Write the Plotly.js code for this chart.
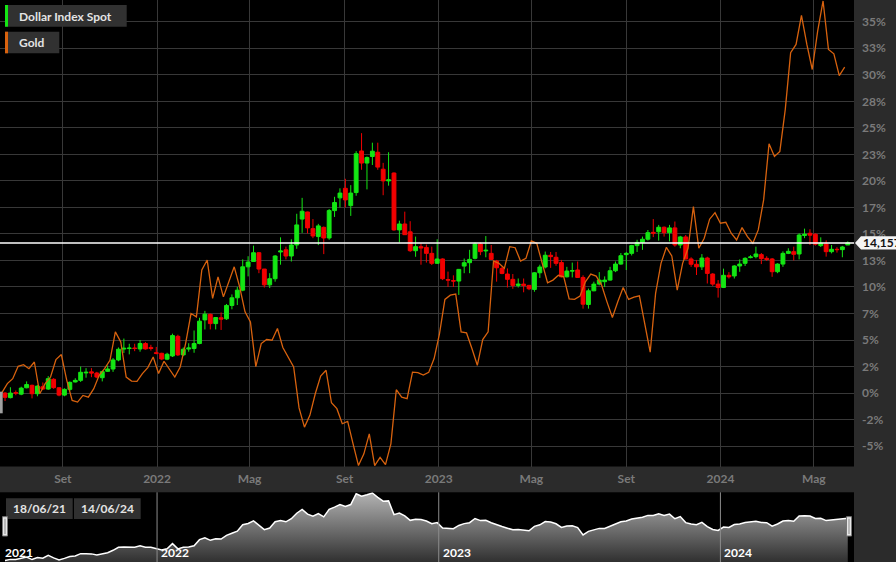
<!DOCTYPE html>
<html><head><meta charset="utf-8">
<script src="https://cdn.plot.ly/plotly-3.0.1.min.js"></script>
<style>html,body{margin:0;padding:0;background:#2b2b2b;overflow:hidden}#chart{width:896px;height:562px}</style>
</head><body><div id="chart"></div>
<script>
// ---- data (percent change) ----
const firstWeek = '2021-06-18';
const dxyOpen = [0.0,-0.43,0.05,-0.1,0.5,0.73,-0.06,0.6,0.38,1.3,
 0.5,-0.19,0.35,1.05,1.2,1.9,2.0,1.89,1.45,2.05,
 2.27,3.12,4.15,4.2,4.25,4.16,4.67,4.3,3.8,3.75,
 3.2,3.5,5.35,3.6,4.15,4.2,4.67,6.9,7.42,6.55,
 7.1,7.0,8.26,8.98,9.7,11.9,12.4,13.23,11.69,10.2,
 10.78,13.3,13.5,12.92,13.96,16.4,17.07,15.5,14.75,15.62,
 14.62,17.2,18.4,19.3,17.67,18.9,22.82,21.68,22.3,22.7,
 21.1,20.0,20.74,15.38,15.94,15.2,13.42,13.8,13.73,13.17,
 12.23,12.64,10.7,10.6,10.56,11.97,12.29,12.7,14.05,13.4,
 13.17,12.45,11.75,11.22,10.72,10.15,10.27,10.15,9.77,11.34,
 11.88,12.99,12.8,12.3,10.96,11.5,11.6,10.9,8.35,9.64,
 10.27,10.5,10.65,11.53,12.16,13.05,13.17,13.9,14.2,14.5,
 15.15,15.2,15.63,15.12,15.57,13.96,14.72,12.64,12.14,11.9,
 12.73,11.22,10.27,9.96,11.1,11.04,11.98,12.23,12.77,12.86,
 13.05,12.7,12.64,11.44,12.16,13.17,13.33,13.11,14.85,15.06,
 14.97,13.9,14.05,13.33,13.55,13.52,13.96];
const dxyHigh = [0.1,0.55,0.25,0.6,1.1,0.8,0.75,1.0,1.6,1.4,
 0.55,0.45,1.1,1.4,2.5,2.35,2.35,2.0,2.1,2.6,
 3.3,4.3,5.14,4.65,4.65,5.0,4.8,4.55,4.35,3.8,
 3.8,5.6,5.5,4.3,4.7,5.9,7.1,7.75,7.5,7.15,
 7.6,8.4,9.3,10.0,12.6,12.9,13.9,13.3,11.7,11.3,
 13.0,14.68,13.8,14.5,16.9,18.4,17.1,16.4,15.95,15.7,
 17.35,18.5,19.3,20.2,19.6,22.8,24.5,22.3,23.6,23.6,
 21.7,22.7,20.8,16.25,17.1,16.2,14.75,14.1,14.0,13.8,
 14.5,12.7,11.45,11.1,11.7,12.68,13.5,14.2,14.2,14.8,
 13.96,12.55,11.9,11.75,11.22,10.8,10.8,10.2,11.4,12.1,
 13.34,13.3,13.3,12.55,11.9,12.3,12.4,11.1,9.85,10.5,
 11.4,11.0,11.9,12.4,13.2,13.3,13.97,14.45,14.75,15.37,
 16.4,15.85,15.7,15.85,16.17,14.82,14.9,12.8,12.55,13.1,
 12.85,11.3,10.65,11.73,11.4,12.05,12.6,12.8,13.0,13.8,
 13.2,12.9,12.73,12.23,13.36,13.65,13.8,15.06,15.5,15.44,
 15.06,14.68,14.4,13.96,13.75,13.87,14.3];
const dxyLow = [-0.75,-0.5,-0.2,-0.2,0.45,-0.5,-0.3,0.3,0.3,0.4,
 -0.3,-0.3,0.2,1.0,1.05,1.45,1.5,1.4,1.1,2.0,
 2.0,3.0,3.78,3.65,3.95,3.9,4.1,4.0,3.65,3.1,
 3.1,3.4,3.5,3.5,3.9,3.8,4.6,6.0,6.0,6.0,
 5.95,6.9,7.9,8.3,9.6,11.0,12.4,11.3,9.95,9.9,
 10.5,12.1,12.6,12.4,13.6,15.1,15.05,14.6,13.95,13.1,
 14.45,16.6,17.5,17.5,16.7,18.6,21.05,19.2,21.5,21.05,
 18.65,19.55,15.3,14.2,14.9,13.3,12.85,12.1,12.3,12.07,
 12.2,10.65,10.0,10.0,9.25,11.3,11.3,12.6,13.0,12.8,
 12.55,10.5,11.2,9.95,9.83,9.95,9.5,9.7,9.55,10.85,
 11.75,11.8,12.0,10.9,10.9,10.9,10.85,7.96,7.96,9.6,
 10.15,10.0,10.6,11.4,12.1,11.6,12.97,13.3,13.5,14.37,
 14.7,14.37,14.75,14.3,13.8,13.65,12.6,11.9,11.13,11.6,
 10.33,10.1,9.0,9.9,10.8,10.8,11.43,11.98,12.7,12.7,
 12.16,12.45,10.96,11.3,11.9,13.1,12.5,12.6,14.6,13.96,
 13.9,13.77,12.86,13.17,13.24,12.8,13.96];
const dxyClose = [-0.4,0.0,0.0,0.47,0.8,-0.06,0.66,0.38,1.36,0.51,
 -0.19,0.35,1.01,1.2,1.96,1.96,1.89,1.51,2.02,2.27,
 3.12,4.13,4.22,4.24,4.2,4.67,4.16,4.2,3.75,3.21,
 3.66,5.42,3.6,4.13,4.25,4.67,6.78,7.44,6.55,7.12,
 6.97,8.26,8.98,9.7,11.9,12.35,13.23,11.69,10.2,10.78,
 12.92,13.39,12.92,13.96,15.85,17.14,15.57,14.81,15.76,14.62,
 17.2,17.96,18.85,18.21,18.85,22.56,21.68,22.2,22.8,21.3,
 20.0,20.1,15.38,15.94,14.93,13.42,13.8,13.68,13.17,12.23,
 12.64,10.78,10.65,10.56,11.66,12.29,12.6,14.05,13.33,13.46,
 12.6,11.81,11.28,10.72,10.15,10.27,10.15,9.83,11.34,11.88,
 12.99,12.86,12.23,10.96,11.5,11.53,10.9,8.38,9.64,10.27,
 10.65,10.65,11.53,12.16,12.95,13.17,13.9,14.2,14.5,15.12,
 15.07,15.63,15.12,15.57,13.96,14.72,12.64,12.14,11.9,12.73,
 11.28,10.27,9.96,11.1,10.96,11.98,12.16,12.7,12.83,13.11,
 12.67,12.6,11.44,12.16,13.17,13.36,13.08,14.9,14.97,14.88,
 14.03,14.12,13.33,13.55,13.52,13.77,14.157];
const goldStart = '2021-06-14';
const gold = [0.05,
 0.89,1.36,2.52,2.68,2.3,2.93,-0.06,0.89,1.51,3.16,
 3.63,1.2,-0.69,-0.85,-0.22,-0.38,0.42,1.67,2.3,3.09,
 5.77,4.82,1.51,1.13,1.1,1.83,2.4,3.4,1.85,3.0,
 2.3,1.51,2.46,4.67,7.5,7.18,11.6,12.54,8.92,10.96,
 9.07,10.4,11.9,10.02,7.66,6.71,2.5,4.67,5.05,4.98,
 6.09,4.3,3.4,2.46,-1.4,-3.21,-2.1,-0.06,1.6,2.15,
 -0.91,-1.47,-2.89,-2.67,-4.78,-6.83,-5.73,-3.84,-6.83,-6.05,
 -6.74,-4.78,0.32,-0.38,-0.53,1.98,1.93,1.7,1.95,3.25,
 5.61,8.83,9.23,9.33,5.77,5.67,4.2,2.62,5.05,5.77,
 12.45,12.23,11.76,13.8,13.7,12.45,12.7,14.34,14.12,12.23,
 10.4,10.65,11.1,10.96,8.88,8.83,9.14,10.49,11.22,11.03,
 10.18,8.6,7.13,8.6,9.96,8.83,9.05,9.17,6.5,3.85,
 9.4,12.23,13.74,12.92,9.71,12.23,13.65,17.58,13.65,14.59,
 16.39,17.01,16.01,16.1,15.07,14.43,15.6,14.74,14.12,15.38,
 18.21,23.5,22.3,22.78,26.72,32.08,32.86,35.6,32.86,30.5,
 34.12,36.96,32.39,31.98,29.93,30.72];
const monthTicks = ['2021-09-01','2022-01-01','2022-05-01','2022-09-01','2023-01-01','2023-05-01','2023-09-01','2024-01-01','2024-05-01'];
const monthLabels = ['Set','2022','Mag','Set','2023','Mag','Set','2024','Mag'];
const yTicks = [-5,-2.5,0,2.5,5,7.5,10,12.5,15,17.5,20,22.5,25,27.5,30,32.5,35];
const yLabels = ['-5%','-2%','0%','2%','5%','7%','10%','13%','15%','17%','20%','23%','25%','28%','30%','33%','35%'];
const yearTicks = ['2022-01-01','2023-01-01','2024-01-01'];
const yearLabels = ['2022','2023','2024'];
const firstYearLabel = '2021';
const seriesNames = ['Dollar Index Spot','Gold'];
const navFrom = '18/06/21', navTo = '14/06/24';

// ---- helpers ----
function weekly(start, n){const t0=Date.parse(start+'T00:00:00Z');const out=[];for(let i=0;i<n;i++){out.push(new Date(t0+i*604800000).toISOString().slice(0,10));}return out;}
const dates = weekly(firstWeek, dxyClose.length);
const goldDates = weekly(goldStart, gold.length);
const W=896,H=562,PW=854;
const pxp = x => x/PW;
const pyp = y => (H-y)/H;
const X_RANGE = ['2021-06-11 12:00','2024-06-22 02:00'];
const Y_RANGE = [-6.92, 37.05];
const NAV_RANGE = [-0.9, 23.05];
const MAIN_BOTTOM = (H-466.5)/H, NAV_TOP = (H-492.3)/H;
const GREEN='#14e614', RED='#f20000', ORANGE='#d8620e';
const last = dxyClose[dxyClose.length-1];
const tickFont = {family:'Lato, sans-serif', size:12, color:'#7a7a7a', weight:'bold'};

const traces = [
 {type:'candlestick', x:dates, open:dxyOpen, high:dxyHigh, low:dxyLow, close:dxyClose,
  xaxis:'x', yaxis:'y', whiskerwidth:0, hoverinfo:'skip', name:seriesNames[0],
  increasing:{line:{color:GREEN,width:1},fillcolor:GREEN},
  decreasing:{line:{color:RED,width:1},fillcolor:RED}},
 {type:'scatter', mode:'lines', x:goldDates, y:gold, xaxis:'x', yaxis:'y', name:seriesNames[1],
  line:{color:ORANGE,width:1.3}, hoverinfo:'skip'},
 {type:'scatter', mode:'lines', x:[dates[0],dates[dates.length-1]], y:[NAV_RANGE[0],NAV_RANGE[0]],
  xaxis:'x2', yaxis:'y2', line:{width:0,color:'rgba(0,0,0,0)'}, hoverinfo:'skip'},
 {type:'scatter', mode:'lines', x:dates, y:dxyClose, xaxis:'x2', yaxis:'y2',
  line:{color:'#ffffff',width:1.5}, fill:'tonexty', fillcolor:'#707070',
  fillgradient:{type:'vertical', start:NAV_RANGE[0], stop:NAV_RANGE[1], colorscale:[[0,'#303030'],[1,'#b4b4b4']]},
  hoverinfo:'skip'}
];

const shapes = [
 {type:'line', xref:'paper', yref:'y', x0:0, x1:1, y0:last, y1:last, line:{color:'#ffffff',width:1.5}, layer:'above'},
 {type:'path', xref:'paper', yref:'y', layer:'above', fillcolor:'#f4f4f4', line:{width:0},
  path:`M ${pxp(855)},${last} L ${pxp(861)},${last+0.63} L ${pxp(905)},${last+0.63} L ${pxp(905)},${last-0.63} L ${pxp(861)},${last-0.63} Z`},
 {type:'rect', xref:'paper', yref:'paper', x0:pxp(5), x1:pxp(126.7), y0:pyp(26.7), y1:pyp(5), fillcolor:'#313131', line:{width:0}, layer:'above'},
 {type:'rect', xref:'paper', yref:'paper', x0:pxp(5), x1:pxp(8), y0:pyp(26.7), y1:pyp(5), fillcolor:GREEN, line:{width:0}, layer:'above'},
 {type:'rect', xref:'paper', yref:'paper', x0:pxp(5), x1:pxp(59.3), y0:pyp(53.3), y1:pyp(31.7), fillcolor:'#313131', line:{width:0}, layer:'above'},
 {type:'rect', xref:'paper', yref:'paper', x0:pxp(5), x1:pxp(8), y0:pyp(53.3), y1:pyp(31.7), fillcolor:ORANGE, line:{width:0}, layer:'above'},
 {type:'rect', xref:'paper', yref:'paper', x0:pxp(6), x1:pxp(72.7), y0:pyp(519), y1:pyp(498.3), fillcolor:'#303030', line:{width:0}, layer:'above'},
 {type:'rect', xref:'paper', yref:'paper', x0:pxp(74), x1:pxp(140.7), y0:pyp(519), y1:pyp(498.3), fillcolor:'#303030', line:{width:0}, layer:'above'},
 ...yearTicks.map(d => ({type:'line', xref:'x2', yref:'paper', x0:d, x1:d, y0:0, y1:NAV_TOP, line:{color:'#8c8c8c',width:1}, layer:'above'})),
 {type:'rect', xref:'paper', yref:'paper', x0:pxp(2.5), x1:pxp(7.5), y0:pyp(536), y1:pyp(516.7), fillcolor:'#e8e8e8', line:{color:'#777',width:1}, layer:'above'},
 {type:'line', xref:'paper', yref:'paper', x0:pxp(5), x1:pxp(5), y0:pyp(534), y1:pyp(518.7), line:{color:'#888',width:1}, layer:'above'},
 {type:'rect', xref:'paper', yref:'paper', x0:pxp(846.5), x1:pxp(851.5), y0:pyp(536), y1:pyp(516.7), fillcolor:'#e8e8e8', line:{color:'#777',width:1}, layer:'above'},
 {type:'line', xref:'paper', yref:'paper', x0:pxp(849), x1:pxp(849), y0:pyp(534), y1:pyp(518.7), line:{color:'#888',width:1}, layer:'above'},
 {type:'rect', xref:'paper', yref:'paper', x0:0, x1:pxp(2.7), y0:pyp(413.3), y1:pyp(391.7), fillcolor:'#a0a0a0', line:{width:0}, layer:'above'}
];

const legFont = {family:'Lato, sans-serif', size:12, color:'#e4e4e4', weight:'bold'};
const annotations = [
 {xref:'paper', yref:'paper', x:pxp(17), y:pyp(16), xanchor:'left', yanchor:'middle', text:seriesNames[0], showarrow:false, font:legFont},
 {xref:'paper', yref:'paper', x:pxp(17), y:pyp(42.5), xanchor:'left', yanchor:'middle', text:seriesNames[1], showarrow:false, font:legFont},
 {xref:'paper', yref:'y', x:pxp(861), y:last, xanchor:'left', yanchor:'middle', text:last.toFixed(3).replace('.', ','), showarrow:false,
  font:{family:'Lato, sans-serif', size:12, color:'#111', weight:'bold'}},
 {xref:'paper', yref:'paper', x:pxp(39.3), y:pyp(508.7), xanchor:'center', yanchor:'middle', text:navFrom, showarrow:false, font:legFont},
 {xref:'paper', yref:'paper', x:pxp(107.3), y:pyp(508.7), xanchor:'center', yanchor:'middle', text:navTo, showarrow:false, font:legFont},
 {xref:'paper', yref:'paper', x:pxp(3), y:pyp(552.5), xanchor:'left', yanchor:'middle', text:firstYearLabel, showarrow:false, font:{family:'Lato, sans-serif', size:12, color:'#ffffff', weight:'bold'}},
 ...yearTicks.map((d,i) => ({xref:'x2', yref:'paper', x:d, xshift:2, y:pyp(552.5), xanchor:'left', yanchor:'middle', text:yearLabels[i], showarrow:false, font:{family:'Lato, sans-serif', size:12, color:'#ffffff', weight:'bold'}}))
];

const layout = {
 width:W, height:H, margin:{l:0,r:W-PW,t:0,b:0,pad:0},
 paper_bgcolor:'#2b2b2b', plot_bgcolor:'#000000',
 showlegend:false, hovermode:false, dragmode:false,
 boxgap:0.25, boxgroupgap:0.05,
 font:{family:'Lato, sans-serif'},
 xaxis:{type:'date', range:X_RANGE, domain:[0,1], anchor:'y', rangeslider:{visible:false},
  tickmode:'array', tickvals:monthTicks, ticktext:monthLabels, showgrid:true, gridcolor:'#383838', gridwidth:1,
  zeroline:false, showline:false, ticks:'', tickfont:tickFont, ticklabelstandoff:3, fixedrange:true, automargin:false},
 yaxis:{domain:[MAIN_BOTTOM,1], range:Y_RANGE, side:'right', anchor:'x', tickmode:'array', tickvals:yTicks, ticktext:yLabels,
  showgrid:true, gridcolor:'#383838', gridwidth:1, zeroline:false, showline:false, ticks:'', tickfont:tickFont,
  ticklabelstandoff:7, fixedrange:true, automargin:false},
 xaxis2:{type:'date', range:X_RANGE, domain:[0,1], anchor:'y2', showgrid:false, showticklabels:false, zeroline:false, showline:false, ticks:'', fixedrange:true},
 yaxis2:{domain:[0,NAV_TOP], range:NAV_RANGE, anchor:'x2', showgrid:false, showticklabels:false, zeroline:false, showline:false, ticks:'', fixedrange:true},
 shapes:shapes, annotations:annotations
};
Plotly.newPlot('chart', traces, layout, {staticPlot:true, displayModeBar:false});
</script></body></html>
